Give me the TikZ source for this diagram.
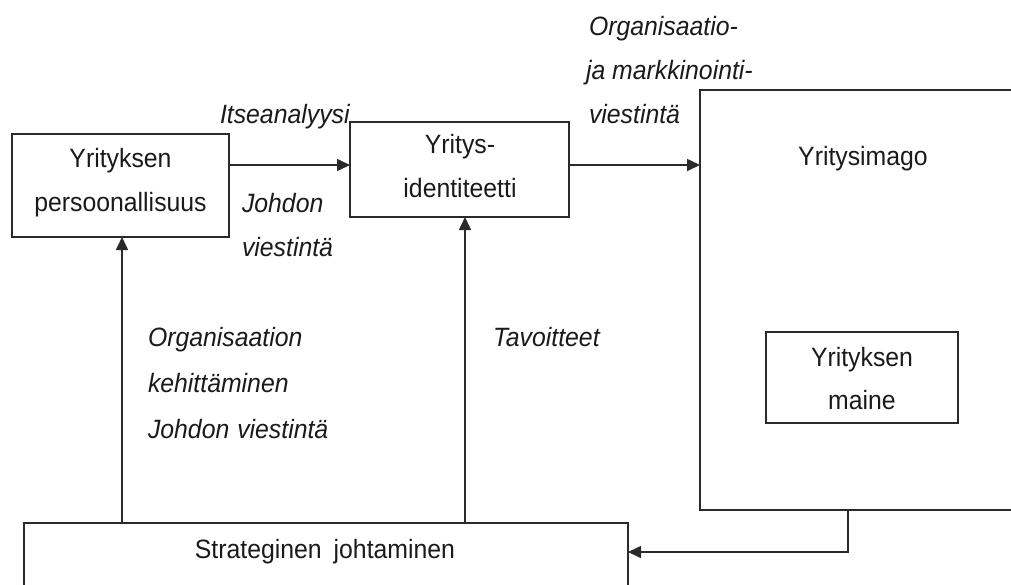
\documentclass[tikz,border=0pt]{standalone}
\usepackage{fontspec}
\setmainfont{Liberation Sans}[FakeStretch=0.936]
\usetikzlibrary{arrows.meta}
\definecolor{linec}{HTML}{2A2A2A}
\definecolor{txtc}{HTML}{1A1A1A}
\begin{document}
\begin{tikzpicture}[x=1pt,y=-1pt,
  boxst/.style={draw=linec,line width=1.6pt,inner sep=0pt,outer sep=0pt,fill=none},
  txt/.style={inner sep=0pt,outer sep=0pt,anchor=base,text=txtc,font=\fontsize{26.5}{44}\selectfont},
  itl/.style={inner sep=0pt,outer sep=0pt,anchor=base west,text=txtc,font=\fontsize{26.5}{44}\selectfont\itshape},
  arr/.style={draw=linec,line width=1.6pt,-{Triangle[length=13pt,width=12pt]}},
  plain/.style={draw=linec,line width=1.6pt}]
\useasboundingbox (0,0) rectangle (1011,584);
% boxes
\node[boxst,minimum width=217pt,minimum height=103pt] (pers) at (120.5,185.5) {};
\node[boxst,minimum width=219pt,minimum height=95pt] (ident) at (459.5,169.5) {};
\node[boxst,minimum width=324pt,minimum height=420pt] (big) at (862,300) {};
\node[boxst,minimum width=192pt,minimum height=91pt] (maine) at (862,377.5) {};
\node[boxst,minimum width=604pt,minimum height=90pt] (strat) at (326,568) {};
% box texts
\node[txt] (t1) at (120.5,167) {Yrityksen};
\node[txt] (t2) at (120.5,211) {persoonallisuus};
\node[txt] (t3) at (460,153) {Yritys-};
\node[txt] (t4) at (460,197) {identiteetti};
\node[txt] (t5) at (863,165) {Yritysimago};
\node[txt] (t6) at (862,366) {Yrityksen};
\node[txt] (t7) at (862,409) {maine};
\node[txt] (t8) at (325,558) {Strateginen\hspace{0.45em}johtaminen};
% italic labels
\node[itl] (l1) at (589,35) {Organisaatio-};
\node[itl] (l2) at (586,79) {ja markkinointi-};
\node[itl] (l3) at (589,123) {viestintä};
\node[itl] (l4) at (220,123) {Itseanalyysi};
\node[itl] (l5) at (242,212) {Johdon};
\node[itl] (l6) at (242,256) {viestintä};
\node[itl] (l7) at (148,346) {Organisaation};
\node[itl] (l8) at (148,392) {kehittäminen};
\node[itl] (l9) at (148,438) {Johdon\hspace{0.3em}viestintä};
\node[itl] (l10) at (493,346) {Tavoitteet};
% connectors
\coordinate (ya) at (0,165);
\coordinate (xl) at (122,0);
\coordinate (xm) at (465,0);
\coordinate (turn) at (848,552);
\draw[arr] (pers.east |- ya) -- (ident.west |- ya);
\draw[arr] (ident.east |- ya) -- (big.west |- ya);
\draw[arr] (xl |- strat.north) -- (xl |- pers.south);
\draw[arr] (xm |- strat.north) -- (xm |- ident.south);
\draw[arr] (turn |- big.south) -- (turn) -- (turn -| strat.east);
\end{tikzpicture}
\end{document}
